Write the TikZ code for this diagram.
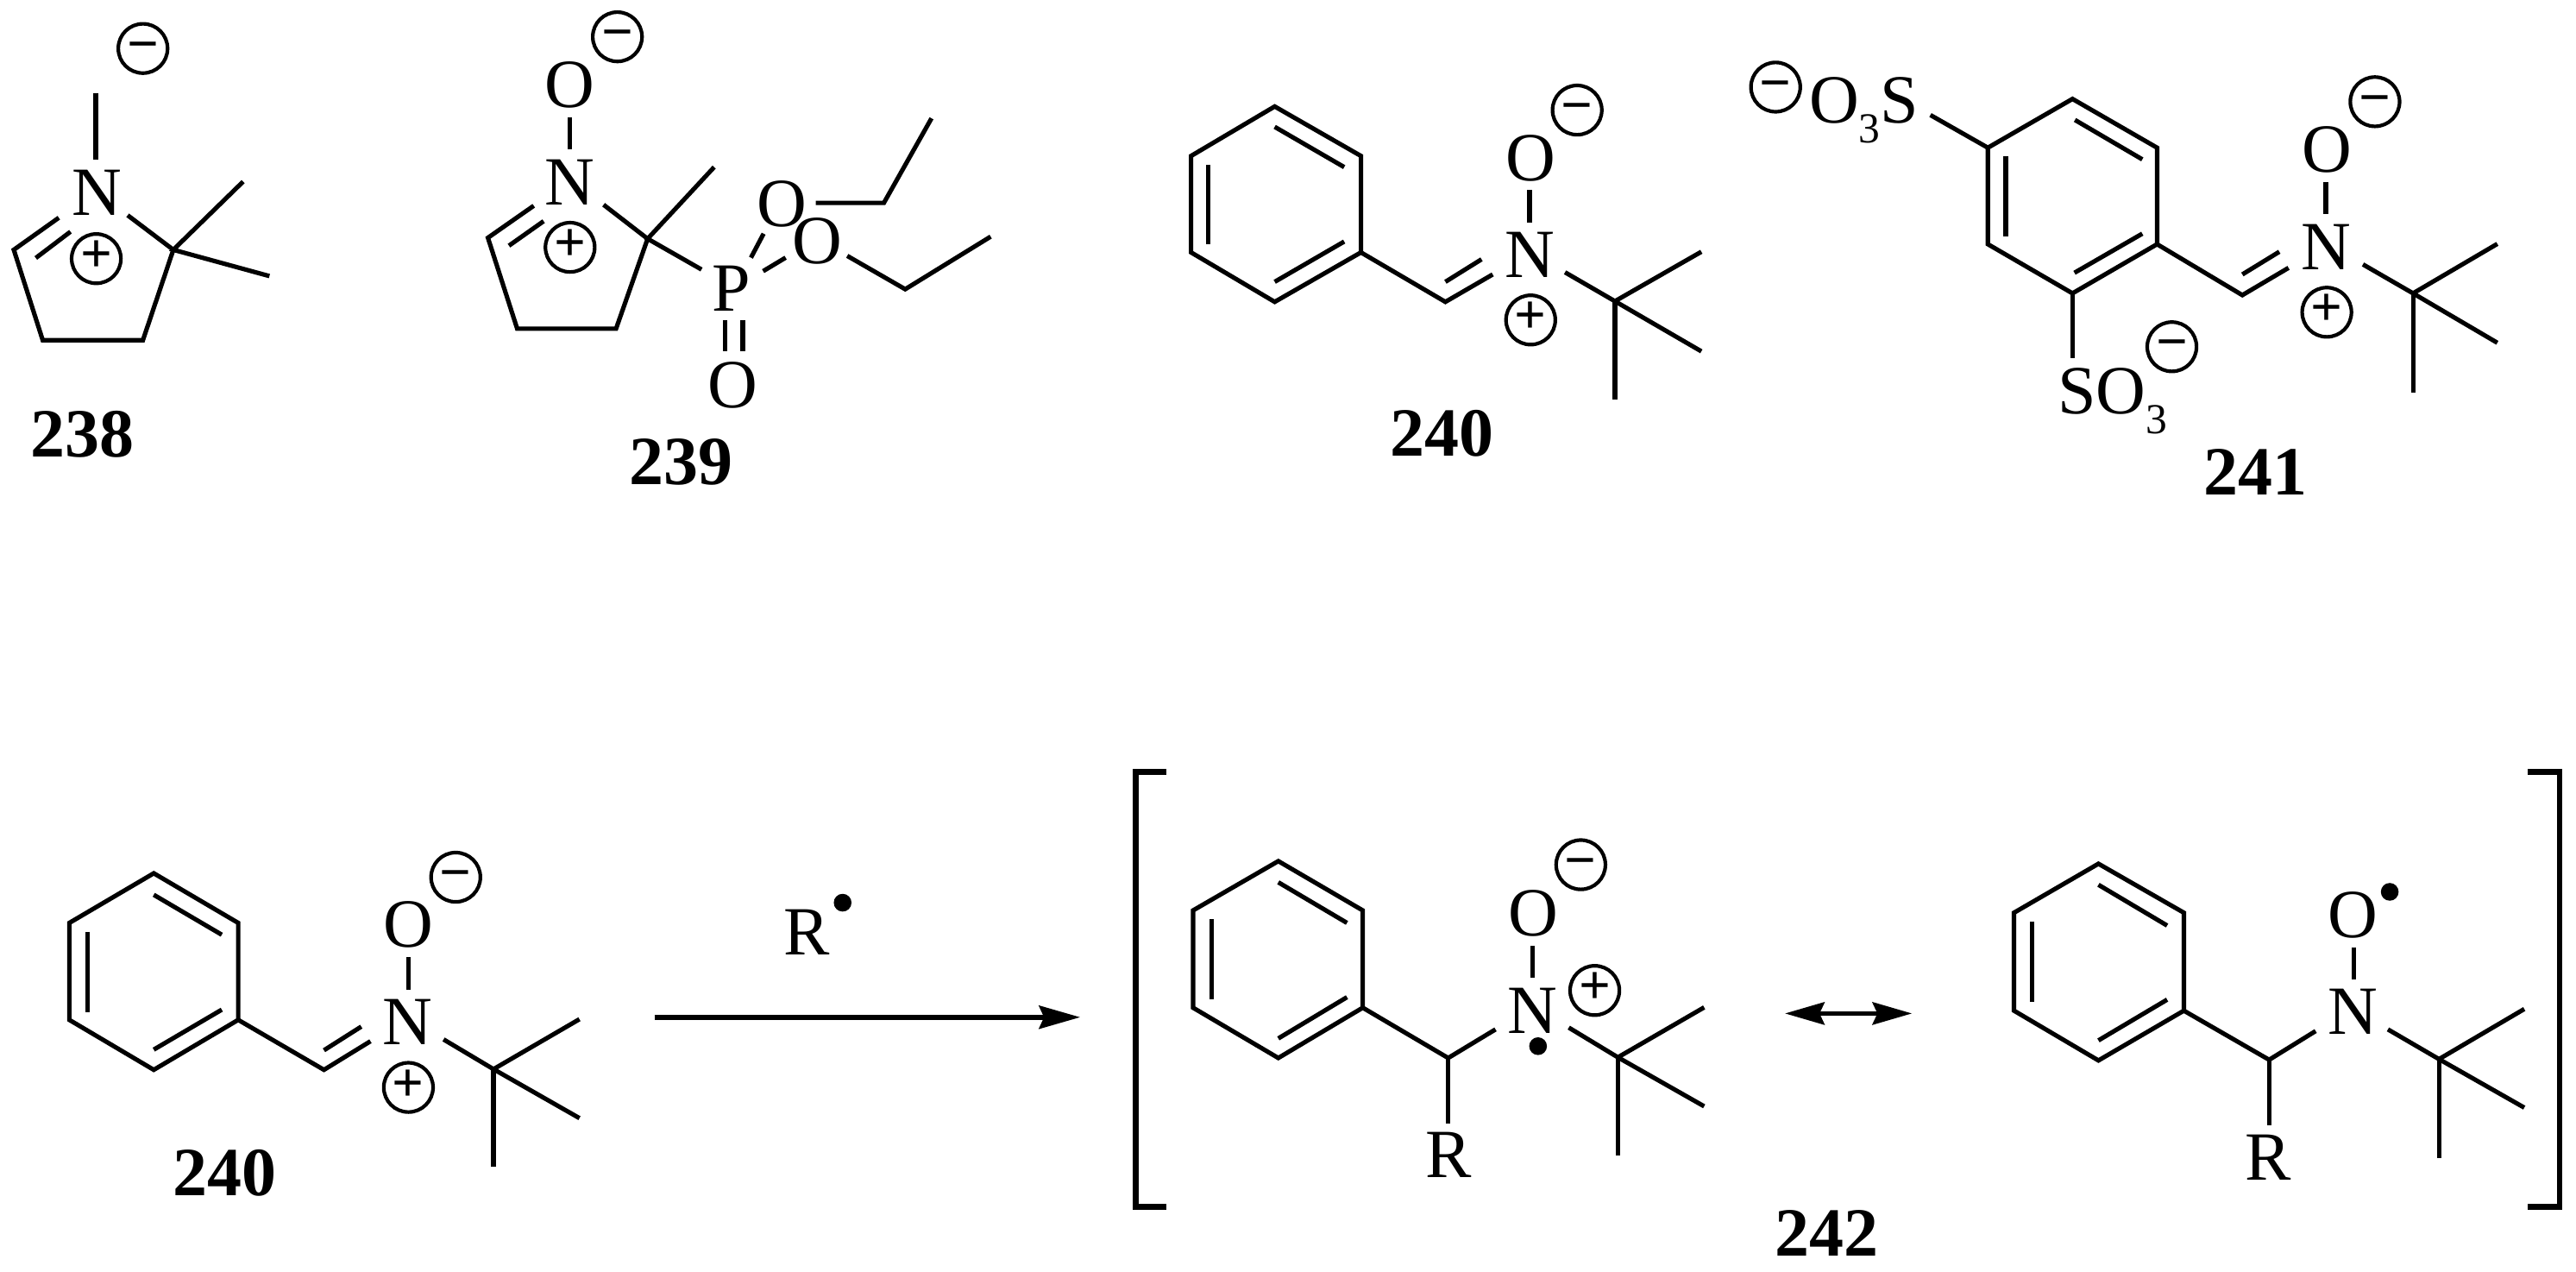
\documentclass[tikz,border=0pt]{standalone}
\usepackage{fontspec}
\setmainfont{Liberation Serif}
\usetikzlibrary{arrows.meta}
\newcommand{\Cd}[3]{\coordinate (#1) at (#2,#3);}
\newcommand{\SubT}{\raisebox{-6pt}{\fontsize{13}{13}\selectfont 3}}
\tikzset{
  bond/.style={line width=1.35pt,line cap=butt,line join=miter,miter limit=10},
  atom/.style={inner sep=0pt,outer sep=0pt,font=\fontsize{21}{21}\selectfont,text height=13.9pt,text depth=0pt},
  num/.style={atom,font=\fontsize{21}{21}\selectfont\bfseries},
  chg/.style={draw,circle,line width=1.1pt,inner sep=0pt,outer sep=0pt,minimum size=15pt,font=\fontsize{17}{17}\selectfont\bfseries,text height=8.5pt,text depth=0pt},
  rad/.style={circle,fill=black,inner sep=0pt,outer sep=0pt,minimum size=5.4pt},
  brk/.style={line width=1.7pt,line cap=butt,line join=miter},
  rx/.style={line width=1.45pt,-{Stealth[length=12.5pt,width=7pt,inset=1.5pt]}},
  rz/.style={line width=1.45pt,{Stealth[length=12pt,width=6.8pt,inset=1.5pt]}-{Stealth[length=12pt,width=6.8pt,inset=1.5pt]}}
}
\begin{document}
\begin{tikzpicture}[x=0.5pt,y=-0.5pt]
\useasboundingbox (0,0) rectangle (1568,774);
%% 238
\node[atom] (aN) at (59,117) {N};
\node[chg] (aM) at (87,29.5) {−};
\node[chg] (aP) at (58.6,157.4) {+};
\node[num] (aL) at (50,264) {238};
\Cd{a1}{58.3}{56.5}\Cd{a2}{58.3}{97}
\Cd{a3}{35.8}{132.5}\Cd{a4}{8.4}{152}\Cd{a5}{26}{207}\Cd{a6}{87}{207}\Cd{a7}{105.5}{152}\Cd{a8}{77.7}{131}
\Cd{a9}{21.8}{157}\Cd{a10}{42.9}{141}\Cd{a11}{148}{110.5}\Cd{a12}{164}{168}
\draw[bond] (a1)--(a2);
\draw[bond] (a3)--(a4)--(a5)--(a6)--(a7)--(a8);
\draw[bond] (a9)--(a10);
\draw[bond] (a11)--(a7)--(a12);
%% 239
\node[atom] (bN) at (346.6,111) {N};
\node[atom] (bO) at (346.6,51.5) {O};
\node[chg] (bM) at (375.8,22.4) {−};
\node[chg] (bP) at (347,150.5) {+};
\node[atom] (bPh) at (445.4,175.5) {P};
\node[atom] (bO2) at (446,234.2) {O};
\node[atom] (bO3) at (476.2,124.2) {O};
\node[atom] (bO4) at (497.3,146.4) {O};
\node[num] (bL) at (414.6,280.7) {239};
\Cd{b1}{347}{71.6}\Cd{b2}{347}{90.7}
\Cd{b3}{324.9}{125.2}\Cd{b4}{297}{144.7}\Cd{b5}{314.8}{200}\Cd{b6}{375}{200}\Cd{b7}{394.2}{145.3}\Cd{b8}{367.4}{124.6}
\Cd{b9}{309.8}{149.5}\Cd{b10}{330.9}{134.6}\Cd{b11}{434.7}{101.7}\Cd{b12}{427}{164}
\Cd{b13}{441.4}{194.8}\Cd{b14}{441.4}{213.9}\Cd{b15}{452.1}{194.8}\Cd{b16}{452.1}{213.9}
\Cd{b17}{457.1}{156.8}\Cd{b18}{464.8}{142.2}\Cd{b19}{464.5}{165}\Cd{b20}{478.2}{156.8}
\Cd{b21}{496.6}{123.5}\Cd{b22}{538}{123.5}\Cd{b23}{567}{72}
\Cd{b24}{515.7}{155.7}\Cd{b25}{551}{176}\Cd{b26}{603}{144}
\draw[bond] (b1)--(b2);
\draw[bond] (b3)--(b4)--(b5)--(b6)--(b7)--(b8);
\draw[bond] (b9)--(b10);
\draw[bond] (b11)--(b7)--(b12);
\draw[bond] (b13)--(b14);
\draw[bond] (b15)--(b16);
\draw[bond] (b17)--(b18);
\draw[bond] (b19)--(b20);
\draw[bond] (b21)--(b22)--(b23);
\draw[bond] (b24)--(b25)--(b26);
%% 240 top
\node[atom] (cN) at (931,154.7) {N};
\node[atom] (cO) at (931.7,95.9) {O};
\node[chg] (cM) at (960,67) {−};
\node[chg] (cP) at (931.7,194.7) {+};
\node[num] (cL) at (877.5,263.7) {240};
\Cd{c1}{775.9}{64.8}\Cd{c2}{828.4}{94.9}\Cd{c3}{828.4}{153.6}\Cd{c4}{775.9}{183.7}\Cd{c5}{725}{153.6}\Cd{c6}{725}{94.9}
\Cd{c7}{775.9}{77.2}\Cd{c8}{818.2}{101.7}\Cd{c9}{735.2}{100.3}\Cd{c10}{735.2}{148.4}\Cd{c11}{818.2}{147}\Cd{c12}{775.9}{171.5}
\Cd{c13}{879.8}{183.7}\Cd{c14}{908.6}{167}\Cd{c15}{879.8}{171.5}\Cd{c16}{901.8}{157.8}
\Cd{c17}{931}{115.6}\Cd{c18}{931}{135.4}
\Cd{c19}{952.6}{165.7}\Cd{c20}{983}{183.3}\Cd{c21}{1035.6}{153.2}\Cd{c22}{1035.6}{213.8}\Cd{c23}{983}{243.3}
\draw[bond] (c1)--(c2)--(c3)--(c4)--(c5)--(c6)--cycle;
\draw[bond] (c7)--(c8);
\draw[bond] (c9)--(c10);
\draw[bond] (c11)--(c12);
\draw[bond] (c3)--(c13)--(c14);
\draw[bond] (c15)--(c16);
\draw[bond] (c17)--(c18);
\draw[bond] (c19)--(c20)--(c21);
\draw[bond] (c20)--(c22);
\draw[bond] (c20)--(c23);
%% 241
\node[atom] (dN) at (1415.7,150) {N};
\node[atom] (dO) at (1416.3,90.7) {O};
\node[chg] (dM) at (1445.6,61.9) {−};
\node[chg] (dP) at (1416.3,190) {+};
\node[atom] (dS1) at (1134.5,61) {O\SubT S};
\node[chg] (dM1) at (1080.8,53) {−};
\node[atom] (dS2) at (1286,238) {SO\SubT};
\node[chg] (dM2) at (1322,211) {−};
\node[num] (dL) at (1372.8,287.5) {241};
\Cd{d1}{1261.5}{60.2}\Cd{d2}{1313}{89.9}\Cd{d3}{1313}{148.6}\Cd{d4}{1261.5}{178.5}\Cd{d5}{1210}{148.6}\Cd{d6}{1210}{89.9}
\Cd{d7}{1263}{73}\Cd{d8}{1304}{97}\Cd{d9}{1220.9}{95}\Cd{d10}{1220.9}{143.9}\Cd{d11}{1304}{142.2}\Cd{d12}{1262.7}{166}
\Cd{d13}{1175}{70}\Cd{d14}{1261.5}{218}
\Cd{d15}{1364.9}{179.6}\Cd{d16}{1393}{163}\Cd{d17}{1364.9}{167}\Cd{d18}{1387.4}{153.2}
\Cd{d19}{1415.7}{110.7}\Cd{d20}{1415.7}{130.4}
\Cd{d21}{1438.3}{160.9}\Cd{d22}{1468.8}{178.5}\Cd{d23}{1520.1}{148.4}\Cd{d24}{1520.1}{208.6}\Cd{d25}{1468.8}{238.7}
\draw[bond] (d1)--(d2)--(d3)--(d4)--(d5)--(d6)--cycle;
\draw[bond] (d7)--(d8);
\draw[bond] (d9)--(d10);
\draw[bond] (d11)--(d12);
\draw[bond] (d6)--(d13);
\draw[bond] (d4)--(d14);
\draw[bond] (d3)--(d15)--(d16);
\draw[bond] (d17)--(d18);
\draw[bond] (d19)--(d20);
\draw[bond] (d21)--(d22)--(d23);
\draw[bond] (d22)--(d24);
\draw[bond] (d22)--(d25);
%% 240 lower
\node[atom] (eN) at (248.2,621.8) {N};
\node[atom] (eO) at (248.6,562.6) {O};
\node[chg] (eM) at (277.4,533.8) {−};
\node[chg] (eP) at (248.6,661.7) {+};
\node[num] (eL) at (137,713.7) {240};
\Cd{e1}{93.6}{531.4}\Cd{e2}{145}{561.6}\Cd{e3}{145}{620.6}\Cd{e4}{93.6}{651}\Cd{e5}{42.2}{620.6}\Cd{e6}{42.2}{561.6}
\Cd{e7}{93.6}{544.5}\Cd{e8}{135}{568.8}\Cd{e9}{53.1}{567.1}\Cd{e10}{53.1}{615.7}\Cd{e11}{135}{614.4}\Cd{e12}{93.6}{638.7}
\Cd{e13}{197.2}{651}\Cd{e14}{225.5}{633.6}\Cd{e15}{197.2}{639.1}\Cd{e16}{219.9}{624.7}
\Cd{e17}{248.6}{582.6}\Cd{e18}{248.6}{602.1}
\Cd{e19}{270}{632.5}\Cd{e20}{300.4}{650.6}\Cd{e21}{352.7}{620.2}\Cd{e22}{352.7}{680.4}\Cd{e23}{300.4}{710.2}
\draw[bond] (e1)--(e2)--(e3)--(e4)--(e5)--(e6)--cycle;
\draw[bond] (e7)--(e8);
\draw[bond] (e9)--(e10);
\draw[bond] (e11)--(e12);
\draw[bond] (e3)--(e13)--(e14);
\draw[bond] (e15)--(e16);
\draw[bond] (e17)--(e18);
\draw[bond] (e19)--(e20)--(e21);
\draw[bond] (e20)--(e22);
\draw[bond] (e20)--(e23);
%% reaction arrow
\node[atom] (rR) at (491,567.4) {R};
\node[rad] (rD) at (512.9,549.3) {};
\Cd{r1}{398.4}{619}\Cd{r2}{657.5}{619}
\draw[rx] (r1)--(r2);
%% brackets
\Cd{k1}{709.8}{469.7}\Cd{k2}{691.2}{469.7}\Cd{k3}{691.2}{734.3}\Cd{k4}{709.8}{734.3}
\Cd{k5}{1538.8}{469.7}\Cd{k6}{1558}{469.7}\Cd{k7}{1558}{734.3}\Cd{k8}{1538.8}{734.3}
\draw[brk] (k1)--(k2)--(k3)--(k4);
\draw[brk] (k5)--(k6)--(k7)--(k8);
\node[num] (gL) at (1111.9,750.3) {242};
%% 242 left
\node[atom] (fN) at (932.9,615) {N};
\node[atom] (fO) at (933.4,555.4) {O};
\node[chg] (fM) at (962.2,526.2) {−};
\node[chg] (fP) at (970.7,602.7) {+};
\node[rad] (fD) at (936.2,636.6) {};
\node[atom] (fR) at (881.5,702.4) {R};
\Cd{f1}{778.1}{524}\Cd{f2}{829.5}{554}\Cd{f3}{829.5}{613.2}\Cd{f4}{778.1}{643.8}\Cd{f5}{726.2}{613.2}\Cd{f6}{726.2}{554}
\Cd{f7}{778.1}{536.9}\Cd{f8}{819.9}{561.6}\Cd{f9}{737.5}{559.5}\Cd{f10}{737.5}{608.3}\Cd{f11}{819.9}{606.8}\Cd{f12}{778.1}{631.9}
\Cd{f13}{881.5}{643.8}\Cd{f14}{910.3}{626.4}\Cd{f15}{881.5}{683.5}
\Cd{f17}{932.9}{575.4}\Cd{f18}{932.9}{594.9}
\Cd{f19}{954.9}{625.3}\Cd{f20}{984.8}{643.4}\Cd{f21}{1037.3}{613}\Cd{f22}{1037.3}{673.2}\Cd{f23}{984.8}{702.9}
\draw[bond] (f1)--(f2)--(f3)--(f4)--(f5)--(f6)--cycle;
\draw[bond] (f7)--(f8);
\draw[bond] (f9)--(f10);
\draw[bond] (f11)--(f12);
\draw[bond] (f3)--(f13)--(f14);
\draw[bond] (f13)--(f15);
\draw[bond] (f17)--(f18);
\draw[bond] (f19)--(f20)--(f21);
\draw[bond] (f20)--(f22);
\draw[bond] (f20)--(f23);
%% resonance arrow
\Cd{s1}{1086.5}{616.7}\Cd{s2}{1163.8}{616.7}
\draw[rz] (s1)--(s2);
%% 242 right
\node[atom] (hN) at (1432,615.5) {N};
\node[atom] (hO) at (1432,556.5) {O};
\node[rad] (hD) at (1454.6,542.7) {};
\node[atom] (hR) at (1380.7,704) {R};
\Cd{h1}{1277.3}{525.6}\Cd{h2}{1329.3}{555.4}\Cd{h3}{1329.3}{615}\Cd{h4}{1277.3}{645.3}\Cd{h5}{1225.9}{615}\Cd{h6}{1225.9}{555.4}
\Cd{h7}{1277.3}{538.4}\Cd{h8}{1319.1}{563.2}\Cd{h9}{1236.7}{561}\Cd{h10}{1236.7}{609.9}\Cd{h11}{1319.1}{608.3}\Cd{h12}{1277.3}{633.1}
\Cd{h13}{1381.2}{644.9}\Cd{h14}{1409.5}{627.4}\Cd{h15}{1381.2}{685}
\Cd{h17}{1432.6}{576.4}\Cd{h18}{1432.6}{596}
\Cd{h19}{1453.5}{626.4}\Cd{h20}{1484.6}{644.5}\Cd{h21}{1536.5}{614}\Cd{h22}{1536.5}{674}\Cd{h23}{1484.6}{704.5}
\draw[bond] (h1)--(h2)--(h3)--(h4)--(h5)--(h6)--cycle;
\draw[bond] (h7)--(h8);
\draw[bond] (h9)--(h10);
\draw[bond] (h11)--(h12);
\draw[bond] (h3)--(h13)--(h14);
\draw[bond] (h13)--(h15);
\draw[bond] (h17)--(h18);
\draw[bond] (h19)--(h20)--(h21);
\draw[bond] (h20)--(h22);
\draw[bond] (h20)--(h23);
\end{tikzpicture}
\end{document}
